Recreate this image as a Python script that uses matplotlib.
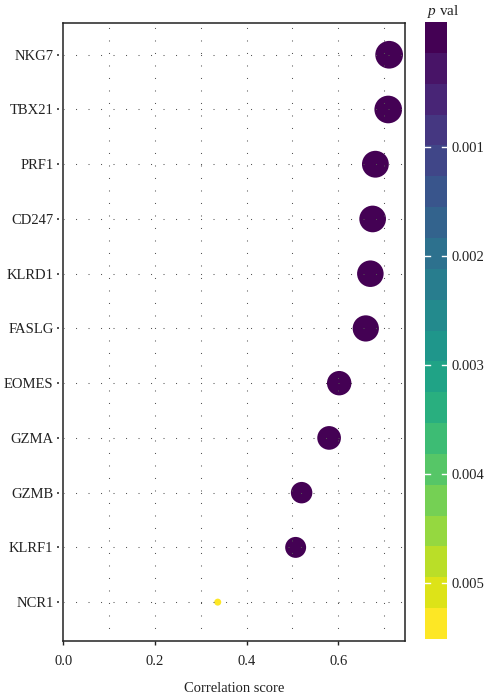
import numpy as np
import matplotlib
matplotlib.use("Agg")
import matplotlib.pyplot as plt
from matplotlib import colors as mcolors
from matplotlib.transforms import blended_transform_factory, offset_copy

plt.rcParams["font.family"] = ["Liberation Serif", "DejaVu Serif"]
plt.rcParams["mathtext.fontset"] = "custom"
plt.rcParams["mathtext.it"] = "Liberation Serif:italic"
plt.rcParams["mathtext.rm"] = "Liberation Serif"

# Genes ordered bottom -> top
genes = ["NCR1", "KLRF1", "GZMB", "GZMA", "EOMES", "FASLG",
         "KLRD1", "CD247", "PRF1", "TBX21", "NKG7"]
corr = [0.337, 0.507, 0.520, 0.580, 0.602, 0.660,
        0.670, 0.675, 0.681, 0.709, 0.711]
pval = [0.00537, 2.1e-9, 1.4e-9, 8.0e-11, 3.0e-11, 1.0e-13,
        2.0e-14, 1.0e-14, 5.0e-15, 1.0e-16, 1.0e-16]
xticks = [0.0, 0.2, 0.4, 0.6]
cbar_ticks = [0.001, 0.002, 0.003, 0.004, 0.005]

W, H = 487, 699
fig = plt.figure(figsize=(W / 100, H / 100), dpi=100)

ax_l, ax_r, ax_t, ax_b = 63.3, 405.0, 23.0, 641.0
ax = fig.add_axes([ax_l / W, 1 - ax_b / H, (ax_r - ax_l) / W, (ax_b - ax_t) / H])

y = np.arange(len(genes))
corr_a = np.asarray(corr)
pval_a = np.asarray(pval)

# point size scaled by correlation (area-style scaling)
t = (corr_a - corr_a.min()) / (corr_a.max() - corr_a.min())
diam_px = 7.0 + 20.7 * np.sqrt(t)
sizes = (diam_px * 0.72) ** 2

cmap = plt.get_cmap("viridis")
pmin, pmax = pval_a.min(), pval_a.max()
norm = mcolors.Normalize(vmin=pmin, vmax=pmax)

ax.scatter(corr_a, y, s=sizes, c=pval_a, cmap=cmap, norm=norm,
           edgecolors="none", zorder=2)

xmax = 0.7456
ax.set_xlim(0, xmax)
ax.set_ylim(-0.71, len(genes) - 1 + 0.58)

# dotted grid drawn above the points
dot = dict(color="#555555", linewidth=0.75, linestyle=(0, (1, 11)), zorder=3)
for xv in np.arange(0.1, 0.71, 0.1):
    ax.axvline(xv, **dot)
for yv in y:
    ax.axhline(yv, **dot)

ax.set_xticks(xticks)
ax.set_xticklabels([f"{v:.1f}" for v in xticks])
ax.set_yticks(y)
ax.set_yticklabels(genes)
ax.tick_params(axis="x", length=3, width=1.0, color="#222222", pad=7,
               labelsize=10.5, labelcolor="#222222")
ax.tick_params(axis="y", length=0, pad=7, labelsize=10.5, labelcolor="#222222")
ax.set_xlabel("Correlation score", fontsize=10.5, color="#222222", labelpad=10)

# small dotted tick marks left of the y axis
tr = blended_transform_factory(ax.transAxes, ax.transData)
tr = offset_copy(tr, fig=fig, x=-5.3, y=0, units="dots")
ax.scatter(np.zeros(len(y)), y, s=1.2, marker="s", color="#555555",
           transform=tr, clip_on=False, zorder=3, linewidths=0)

for s in ax.spines.values():
    s.set_linewidth(1.1)
    s.set_color("#222222")

# discrete colour bar, low p at the top
nbin = 20
cb_l, cb_r, cb_t, cb_b = 425.0, 447.0, 22.0, 639.0
cax = fig.add_axes([cb_l / W, 1 - cb_b / H, (cb_r - cb_l) / W, (cb_b - cb_t) / H])
vals = np.linspace(pmin, pmax, nbin)
step = (pmax - pmin) / (nbin - 1)
for v in vals:
    cax.add_patch(plt.Rectangle((0, v - step / 2), 1, step,
                                facecolor=cmap(norm(v)), edgecolor="none"))
cax.set_xlim(0, 1)
cax.set_ylim(pmax + step / 2, pmin - step / 2)
for tv in cbar_ticks:
    cax.plot([0, 0.22], [tv, tv], color="white", lw=1.0)
    cax.plot([0.78, 1], [tv, tv], color="white", lw=1.0)
cax.set_xticks([])
cax.set_yticks(cbar_ticks)
cax.set_yticklabels([f"{v:.3f}" for v in cbar_ticks])
cax.yaxis.tick_right()
cax.tick_params(axis="y", length=0, pad=3, labelsize=10.5, labelcolor="#222222")
for s in cax.spines.values():
    s.set_visible(False)

fig.text((cb_l + 2) / W, 1 - 12 / H, "$p$ val", fontsize=11, color="#222222",
         ha="left", va="center")

fig.savefig("out.png", dpi=100, facecolor="white")
